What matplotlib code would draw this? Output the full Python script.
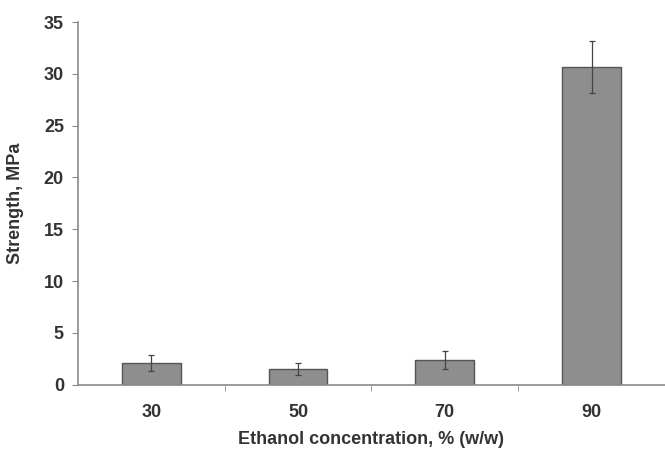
import matplotlib.pyplot as plt
import numpy as np

plt.rcParams['font.family'] = ['Liberation Sans', 'DejaVu Sans']

categories = ['30', '50', '70', '90']
strength = [2.1, 1.5, 2.4, 30.7]
errors = [0.8, 0.6, 0.9, 2.5]

text_color = '#333333'
axis_color = '#8a8a8a'

fig = plt.figure(figsize=(6.65, 4.5), dpi=100)
ax = fig.add_axes([0.117, 0.145, 0.883, 0.806])

x = np.arange(len(categories))
ax.bar(x, strength, width=0.4, color='#8e8e8e', edgecolor='#555555', linewidth=1.0, zorder=2)
ax.errorbar(x, strength, yerr=errors, fmt='none', ecolor='#444444', elinewidth=0.9,
            capsize=2.5, capthick=0.9, zorder=3)

ax.set_xlim(-0.5, len(categories) - 0.5)
ax.set_ylim(0, 35)
ax.set_yticks(range(0, 36, 5))
ax.set_xticks(x)
ax.set_xticklabels(categories)
ax.set_xticks(x[:-1] + 0.5, minor=True)

ax.tick_params(axis='x', which='major', length=0, pad=14, labelsize=13, labelcolor=text_color)
ax.tick_params(axis='x', which='minor', length=4, direction='out', color=axis_color)
ax.tick_params(axis='y', length=4, direction='out', color=axis_color, labelsize=13,
               labelcolor=text_color, pad=6)
for lab in ax.get_xticklabels() + ax.get_yticklabels():
    lab.set_fontweight('bold')

for side in ['top', 'right']:
    ax.spines[side].set_visible(False)
for side in ['left', 'bottom']:
    ax.spines[side].set_color(axis_color)
    ax.spines[side].set_linewidth(1.2)

ax.set_xlabel('Ethanol concentration, % (w/w)', fontsize=13, fontweight='bold',
              color=text_color, labelpad=7)
ax.set_ylabel('Strength, MPa', fontsize=13, fontweight='bold', color=text_color, labelpad=14)

fig.savefig('out.png', dpi=100)
